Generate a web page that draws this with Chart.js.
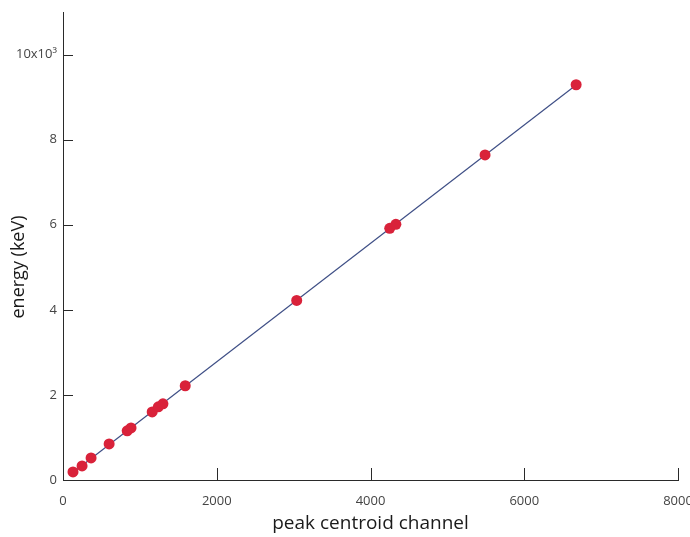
<!DOCTYPE html>
<html>
<head>
<meta charset="utf-8">
<script src="https://cdn.jsdelivr.net/npm/chart.js@4"></script>
<style>
  html, body { margin: 0; padding: 0; background: #fff; }
  canvas { display: block; }
</style>
</head>
<body>
<canvas id="c" width="690" height="537"></canvas>
<script>
// Calibration peaks: centroid channel vs. known energy (keV)
const channels = [130, 248, 365, 600, 835, 885, 1160, 1240, 1300, 1590, 3040, 4250, 4330, 5490, 6675];
const energies = [189, 330, 518, 848, 1155, 1225, 1600, 1720, 1790, 2215, 4220, 5915, 6010, 7640, 9290];

const xTicks = [0, 2000, 4000, 6000, 8000];
const xTickLabels = ['0', '2000', '4000', '6000', '8000'];
const yTicks = [0, 2000, 4000, 6000, 8000, 10000];
const yTickLabels = ['0', '2', '4', '6', '8', '10x10\u00B3'];

// Least-squares linear calibration through the peaks
function linearFit(xs, ys) {
  const n = xs.length;
  let sx = 0, sy = 0, sxx = 0, sxy = 0;
  for (let i = 0; i < n; i++) {
    sx += xs[i]; sy += ys[i]; sxx += xs[i] * xs[i]; sxy += xs[i] * ys[i];
  }
  const slope = (n * sxy - sx * sy) / (n * sxx - sx * sx);
  const intercept = (sy - slope * sx) / n;
  return { slope, intercept };
}
const fit = linearFit(channels, energies);
const xLo = Math.min(...channels), xHi = Math.max(...channels);
const fitLine = [xLo, xHi].map(x => ({ x, y: fit.slope * x + fit.intercept }));

const FONT = '"Open Sans", "DejaVu Sans", sans-serif';
const AXIS_COLOR = '#2a2a2a';

// Tick marks drawn on the inside of the axes, plus the axis titles
const inwardTicks = {
  id: 'inwardTicks',
  afterDraw(chart) {
    const { ctx, chartArea, scales } = chart;
    ctx.save();
    ctx.strokeStyle = AXIS_COLOR;
    ctx.lineWidth = 1;
    ctx.beginPath();
    scales.x.ticks.forEach(t => {
      const px = Math.round(scales.x.getPixelForValue(t.value)) + 0.5;
      ctx.moveTo(px, chartArea.bottom);
      ctx.lineTo(px, chartArea.bottom - 12);
    });
    scales.y.ticks.forEach(t => {
      const py = Math.round(scales.y.getPixelForValue(t.value)) + 0.5;
      ctx.moveTo(chartArea.left, py);
      ctx.lineTo(chartArea.left + 10, py);
    });
    ctx.stroke();

    ctx.fillStyle = '#1a1a1a';
    ctx.font = '19px ' + FONT;
    ctx.textAlign = 'center';
    ctx.textBaseline = 'middle';
    ctx.fillText('peak centroid channel', (chartArea.left + chartArea.right) / 2, 524);
    ctx.translate(19, 267);
    ctx.rotate(-Math.PI / 2);
    ctx.font = '18px ' + FONT;
    ctx.fillText('energy (keV)', 0, 0);
    ctx.restore();
  }
};

new Chart(document.getElementById('c'), {
  type: 'scatter',
  data: {
    datasets: [
      {
        label: 'fit',
        data: fitLine,
        showLine: true,
        borderColor: '#3f4f86',
        borderWidth: 1.2,
        pointRadius: 0,
        fill: false,
        order: 2
      },
      {
        label: 'peaks',
        data: channels.map((x, i) => ({ x, y: energies[i] })),
        backgroundColor: '#d9223a',
        borderColor: '#d9223a',
        borderWidth: 0,
        pointRadius: 5.5,
        order: 1
      }
    ]
  },
  options: {
    responsive: false,
    animation: false,
    layout: { padding: { top: 12, right: 12, left: 0, bottom: 0 } },
    plugins: { legend: { display: false }, tooltip: { enabled: false } },
    scales: {
      x: {
        type: 'linear',
        min: 0,
        max: 8000,
        afterBuildTicks: s => { s.ticks = xTicks.map(v => ({ value: v })); },
        afterFit: s => { s.height = 57; s.paddingLeft = 0; s.paddingRight = 0; },
        grid: { display: false },
        border: { display: true, color: AXIS_COLOR, width: 1 },
        ticks: {
          color: '#444',
          font: { family: FONT, size: 13 },
          padding: 5,
          maxRotation: 0,
          callback: v => xTickLabels[xTicks.indexOf(v)]
        }
      },
      y: {
        type: 'linear',
        min: 0,
        max: 11000,
        afterBuildTicks: s => { s.ticks = yTicks.map(v => ({ value: v })); },
        afterFit: s => { s.width = 63; s.paddingTop = 0; s.paddingBottom = 0; },
        grid: { display: false, drawTicks: false },
        border: { display: true, color: AXIS_COLOR, width: 1 },
        ticks: {
          color: '#444',
          font: { family: FONT, size: 13 },
          padding: 6,
          callback: v => yTickLabels[yTicks.indexOf(v)]
        }
      }
    }
  },
  plugins: [inwardTicks]
});
</script>
</body>
</html>
